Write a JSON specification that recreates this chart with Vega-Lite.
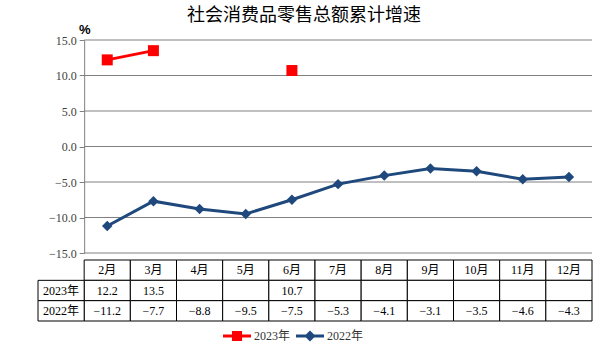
{
  "$schema": "https://vega.github.io/schema/vega-lite/v6.json",
  "padding": {"left": 37, "top": 7, "right": 5, "bottom": 5},
  "title": {"text": "社会消费品零售总额累计增速", "font": "Noto Sans CJK SC", "fontSize": 18, "fontWeight": "normal", "color": "#000000", "anchor": "middle", "offset": -2, "dx": -11},
  "config": {"view": {"stroke": null}, "font": "Liberation Serif", "axis": {"labelOverlap": false, "labelBound": false}},
  "spacing": 0,
  "datasets": {
    "growth": [
      {"month": "2月", "series": "2023年", "value": 12.2},
      {"month": "3月", "series": "2023年", "value": 13.5},
      {"month": "4月", "series": "2023年", "value": null},
      {"month": "5月", "series": "2023年", "value": null},
      {"month": "6月", "series": "2023年", "value": 10.7},
      {"month": "7月", "series": "2023年", "value": null},
      {"month": "8月", "series": "2023年", "value": null},
      {"month": "9月", "series": "2023年", "value": null},
      {"month": "10月", "series": "2023年", "value": null},
      {"month": "11月", "series": "2023年", "value": null},
      {"month": "12月", "series": "2023年", "value": null},
      {"month": "2月", "series": "2022年", "value": -11.2},
      {"month": "3月", "series": "2022年", "value": -7.7},
      {"month": "4月", "series": "2022年", "value": -8.8},
      {"month": "5月", "series": "2022年", "value": -9.5},
      {"month": "6月", "series": "2022年", "value": -7.5},
      {"month": "7月", "series": "2022年", "value": -5.3},
      {"month": "8月", "series": "2022年", "value": -4.1},
      {"month": "9月", "series": "2022年", "value": -3.1},
      {"month": "10月", "series": "2022年", "value": -3.5},
      {"month": "11月", "series": "2022年", "value": -4.6},
      {"month": "12月", "series": "2022年", "value": -4.3}
    ],
    "grid": [{"value": -15}, {"value": -10}, {"value": -5}, {"value": 0}, {"value": 5}, {"value": 10}, {"value": 15}]
  },
  "vconcat": [
    {
      "width": 554,
      "height": 213,
      "layer": [
        {
          "data": {"name": "grid"},
          "mark": {"type": "rule", "color": "#808080", "strokeWidth": 1},
          "encoding": {
            "x": {"datum": "2月", "type": "nominal", "bandPosition": 0, "scale": {"type": "band", "domain": ["系列", "2月", "3月", "4月", "5月", "6月", "7月", "8月", "9月", "10月", "11月", "12月"], "paddingInner": 0, "paddingOuter": 0}, "axis": null},
            "x2": {"datum": "12月", "bandPosition": 1},
            "y": {
              "field": "value", "type": "quantitative",
              "scale": {"domain": [-15, 15], "nice": false, "zero": false},
              "axis": {"values": [-15, -10, -5, 0, 5, 10, 15], "tickCount": 7, "format": ".1f", "offset": -46.17, "grid": false, "labelOverlap": false, "tickSize": 5, "tickColor": "#808080", "domainColor": "#808080", "labelFont": "Liberation Serif", "labelFontSize": 12, "labelColor": "#404040", "labelPadding": 3, "title": "%", "titleAngle": 0, "titleX": 0, "titleY": -4, "titleAlign": "center", "titleBaseline": "bottom", "titleFont": "Liberation Sans", "titleFontWeight": "bold", "titleFontSize": 13, "titleColor": "#000000"}
            }
          }
        },
        {
          "data": {"name": "growth"},
          "mark": {"type": "line", "strokeWidth": 3, "invalid": "break-paths-filter-domains"},
          "encoding": {
            "x": {"field": "month", "type": "nominal"},
            "y": {"field": "value", "type": "quantitative"},
            "color": {
              "field": "series", "type": "nominal",
              "scale": {"domain": ["2023年", "2022年"], "range": ["#ff0000", "#1f497d"]},
              "legend": {
                "orient": "none", "legendX": 185, "legendY": 282, "direction": "horizontal", "title": null,
                "symbolSize": 784, "labelFont": "Liberation Serif, Noto Sans CJK SC", "labelFontSize": 12, "labelColor": "#333333", "labelOffset": 3, "columnPadding": 5,
                "encode": {"symbols": {"update": {
                  "shape": {"signal": "datum.value === '2023年' ? 'M-1,-0.11H1V0.11H-1Z M-0.36,-0.36H0.36V0.36H-0.36Z' : 'M-1,-0.11H1V0.11H-1Z M0,-0.4L0.4,0L0,0.4L-0.4,0Z'"},
                  "fill": {"signal": "datum.value === '2023年' ? '#ff0000' : '#1f497d'"},
                  "strokeWidth": {"value": 0},
                  "opacity": {"value": 1}
                }}}
              }
            }
          }
        },
        {
          "data": {"name": "growth"},
          "transform": [{"filter": "datum.series === '2023年'"}],
          "mark": {"type": "point", "filled": true, "opacity": 1, "shape": "square", "size": 121},
          "encoding": {
            "x": {"field": "month", "type": "nominal"},
            "y": {"field": "value", "type": "quantitative"},
            "color": {"field": "series", "type": "nominal"}
          }
        },
        {
          "data": {"name": "growth"},
          "transform": [{"filter": "datum.series === '2022年'"}],
          "mark": {"type": "point", "filled": true, "opacity": 1, "shape": "diamond", "size": 110},
          "encoding": {
            "x": {"field": "month", "type": "nominal"},
            "y": {"field": "value", "type": "quantitative"},
            "color": {"field": "series", "type": "nominal"}
          }
        }
      ]
    },
    {
      "width": 554,
      "height": 61,
      "data": {"name": "growth"},
      "layer": [
        {
          "transform": [{"filter": "datum.series === '2022年'"}],
          "mark": {"type": "rect", "fill": "#ffffff", "stroke": "#000000", "strokeWidth": 1},
          "encoding": {
            "x": {"field": "month", "type": "nominal", "scale": {"type": "band", "domain": ["系列", "2月", "3月", "4月", "5月", "6月", "7月", "8月", "9月", "10月", "11月", "12月"], "paddingInner": 0, "paddingOuter": 0}, "axis": null},
            "y": {"datum": "月份", "type": "nominal", "scale": {"type": "band", "domain": ["月份", "2023年", "2022年"], "paddingInner": 0, "paddingOuter": 0}, "axis": null}
          }
        },
        {
          "transform": [{"filter": "datum.series === '2022年'"}],
          "mark": {"type": "text", "font": "Liberation Serif, Noto Sans CJK SC", "fontSize": 12, "color": "#000000"},
          "encoding": {
            "x": {"field": "month", "type": "nominal"},
            "y": {"datum": "月份", "type": "nominal"},
            "text": {"field": "month", "type": "nominal"}
          }
        },
        {
          "mark": {"type": "rect", "fill": "#ffffff", "stroke": "#000000", "strokeWidth": 1},
          "encoding": {
            "x": {"field": "month", "type": "nominal"},
            "y": {"field": "series", "type": "nominal"}
          }
        },
        {
          "transform": [{"filter": "isValid(datum.value)"}],
          "mark": {"type": "text", "font": "Liberation Serif, Noto Sans CJK SC", "fontSize": 12, "color": "#000000"},
          "encoding": {
            "x": {"field": "month", "type": "nominal"},
            "y": {"field": "series", "type": "nominal"},
            "text": {"field": "value", "type": "quantitative", "format": ".1f"}
          }
        },
        {
          "transform": [{"filter": "datum.month === '2月'"}],
          "mark": {"type": "rect", "fill": "#ffffff", "stroke": "#000000", "strokeWidth": 1},
          "encoding": {
            "x": {"datum": "系列", "type": "nominal"},
            "y": {"field": "series", "type": "nominal"}
          }
        },
        {
          "transform": [{"filter": "datum.month === '2月'"}],
          "mark": {"type": "text", "font": "Liberation Serif, Noto Sans CJK SC", "fontSize": 12, "color": "#000000"},
          "encoding": {
            "x": {"datum": "系列", "type": "nominal"},
            "y": {"field": "series", "type": "nominal"},
            "text": {"field": "series", "type": "nominal"}
          }
        }
      ]
    }
  ]
}
